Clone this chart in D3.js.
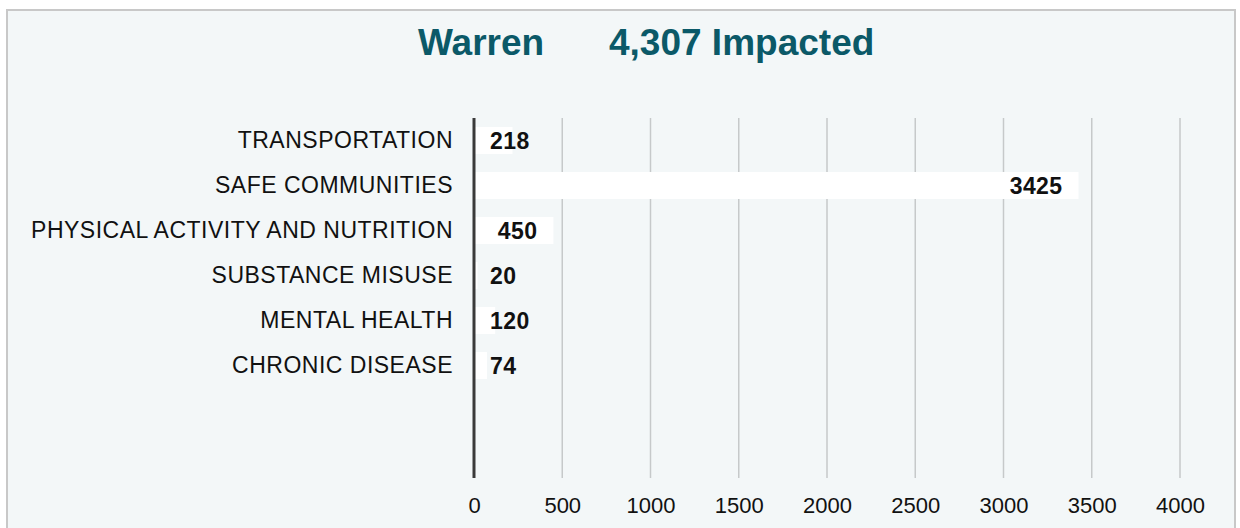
<!DOCTYPE html>
<html>
<head>
<meta charset="utf-8">
<script src="https://cdn.jsdelivr.net/npm/d3@7"></script>
<style>
  html, body { margin: 0; padding: 0; background: #ffffff; }
  svg { display: block; font-family: "Liberation Sans", Arial, sans-serif; }
</style>
</head>
<body>
<div id="chart"></div>
<script>
// data
const county = "Warren";
const impactedLabel = "4,307 Impacted";
const categories = ["TRANSPORTATION", "SAFE COMMUNITIES", "PHYSICAL ACTIVITY AND NUTRITION",
  "SUBSTANCE MISUSE", "MENTAL HEALTH", "CHRONIC DISEASE"];
const values = [218, 3425, 450, 20, 120, 74];
const xTicks = [0, 500, 1000, 1500, 2000, 2500, 3000, 3500, 4000];
const emptySlots = 2; // the chart leaves two blank rows under the last bar

const W = 1240, H = 528;
const margin = { top: 118, left: 474, right: 60, bottom: 50 };
const plotW = 1180 - margin.left;
const plotH = 478 - margin.top;

const svg = d3.select("#chart").append("svg")
  .attr("width", W)
  .attr("height", H);

// panel
svg.append("rect")
  .attr("x", 7).attr("y", 10)
  .attr("width", 1228).attr("height", H)
  .attr("fill", "#f3f7f8")
  .attr("stroke", "#c8c8c8")
  .attr("stroke-width", 2);

// title
const title = svg.append("g")
  .attr("fill", "#0b5968")
  .attr("font-weight", "bold")
  .attr("font-size", 37);
title.append("text").attr("x", 418).attr("y", 55).text(county);
title.append("text").attr("x", 609).attr("y", 55).text(impactedLabel);

const g = svg.append("g").attr("transform", "translate(" + margin.left + "," + margin.top + ")");

const x = d3.scaleLinear().domain([0, 4000]).range([0, plotW]);
const slots = categories.concat(d3.range(emptySlots).map(i => "__blank" + i));
const y = d3.scaleBand().domain(slots).range([0, plotH]).paddingInner(0.4).paddingOuter(0.2);

// grid lines
g.selectAll("line.grid")
  .data(xTicks.filter(t => t > 0))
  .join("line")
  .attr("class", "grid")
  .attr("x1", d => x(d)).attr("x2", d => x(d))
  .attr("y1", 0).attr("y2", plotH)
  .attr("stroke", "#c6c9ca")
  .attr("stroke-width", 1.5);

// x axis labels
const xAxis = g.append("g")
  .attr("transform", "translate(0," + plotH + ")")
  .call(d3.axisBottom(x).tickValues(xTicks).tickSize(0).tickPadding(19).tickFormat(d3.format("d")));
xAxis.select(".domain").remove();
xAxis.selectAll("text")
  .attr("font-family", "Liberation Sans, Arial, sans-serif")
  .attr("font-size", 22)
  .attr("fill", "#111");

// bars
g.selectAll("rect.bar")
  .data(values)
  .join("rect")
  .attr("class", "bar")
  .attr("x", x(0))
  .attr("y", (d, i) => y(categories[i]))
  .attr("width", d => x(d) - x(0))
  .attr("height", y.bandwidth())
  .attr("fill", "#ffffff");

// category labels
const yAxis = g.append("g")
  .call(d3.axisLeft(y).tickValues(categories).tickSize(0).tickPadding(21));
yAxis.select(".domain").remove();
yAxis.selectAll("text")
  .attr("font-family", "Liberation Sans, Arial, sans-serif")
  .attr("font-size", 23)
  .attr("letter-spacing", "0.5px")
  .attr("fill", "#111");

// value labels
g.selectAll("text.val")
  .data(values)
  .join("text")
  .attr("class", "val")
  .attr("y", (d, i) => y(categories[i]) + y.bandwidth() / 2)
  .attr("dy", "0.35em")
  .attr("font-size", 23)
  .attr("font-weight", "bold")
  .attr("letter-spacing", "0.4px")
  .attr("fill", "#111")
  .text(d => d)
  .each(function (d) {
    const w = this.getComputedTextLength();
    let end = x(d) - 16;
    if (end - w < 16) end = 16 + w;
    d3.select(this).attr("x", end).attr("text-anchor", "end");
  });

// zero axis line
g.append("line")
  .attr("x1", x(0)).attr("x2", x(0))
  .attr("y1", 0).attr("y2", plotH)
  .attr("stroke", "#3a3a3a")
  .attr("stroke-width", 3);
</script>
</body>
</html>
